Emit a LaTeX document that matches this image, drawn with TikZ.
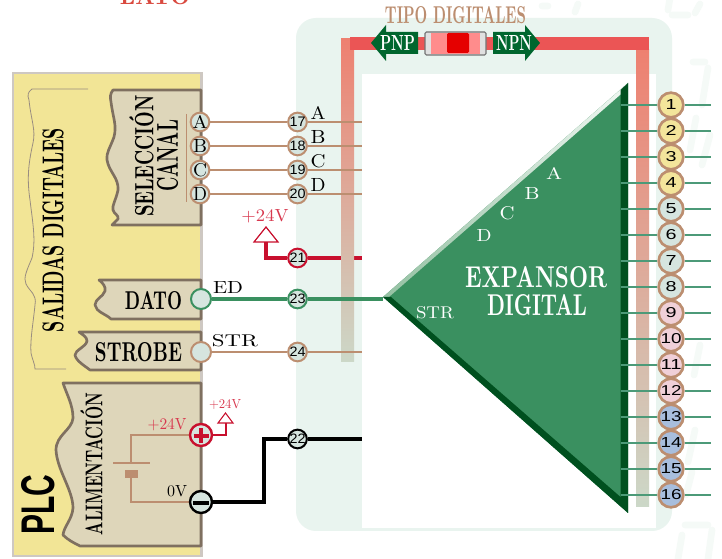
\documentclass[tikz,border=0pt]{standalone}
\usepackage{fontspec}
\usepackage{graphicx}
\setmainfont{Latin Modern Roman}
\newfontfamily\lsans{Liberation Sans}
\definecolor{panel}{HTML}{E9F4EF}
\definecolor{wmark}{HTML}{F5FAF7}
\definecolor{barred}{HTML}{EB5555}
\definecolor{bartop}{HTML}{EE8070}
\definecolor{barlow}{HTML}{CCD8C8}
\definecolor{plcy}{HTML}{F2E596}
\definecolor{plcb}{HTML}{CEC8C2}
\definecolor{tabf}{HTML}{DED6BA}
\definecolor{tabb}{HTML}{7F7060}
\definecolor{tan}{HTML}{BC8E70}
\definecolor{pale}{HTML}{D6E5DF}
\definecolor{pinl}{HTML}{4C9A78}
\definecolor{gr}{HTML}{3A9060}
\definecolor{dgr}{HTML}{00501F}
\definecolor{lgr}{HTML}{9CCBAB}
\definecolor{arrg}{HTML}{00662E}
\definecolor{redc}{HTML}{C8102E}
\definecolor{redt}{HTML}{D8384E}
\definecolor{ttl}{HTML}{D9493F}
\definecolor{pyel}{HTML}{F3E59B}
\definecolor{ppink}{HTML}{F0D0D8}
\definecolor{pblue}{HTML}{A8BEDD}
\newcommand{\fitt}[3]{\resizebox{\dimexpr#1pt*3/4\relax}{\dimexpr#2pt*3/4\relax}{#3}}
\newcommand{\numr}[1]{\ifnum#1>9 \fitt{21}{10}{\lsans #1}\else\fitt{11}{10}{\lsans #1}\fi}
\newcommand{\numm}[1]{\fitt{16}{9.5}{\lsans #1}}
\pgfdeclarelayer{base}
\pgfdeclarelayer{redw}
\pgfdeclarelayer{blocks}
\pgfdeclarelayer{wires}
\pgfsetlayers{base,redw,blocks,wires,main}
\tikzset{
  x=0.75pt,y=-0.75pt,
  tabshape/.style={fill=tabf,draw=tabb,line width=2pt,line join=round},
  wire/.style={draw=tan,line width=1.2pt},
  bigpin/.style={circle,draw=tan,line width=1.5pt,minimum size=14pt,inner sep=0pt,fill=pale},
  dotpin/.style={circle,line width=1.5pt,fill=pale,minimum size=15pt,inner sep=0pt},
  pwrpin/.style={circle,line width=1.8pt,fill=pale,minimum size=16.5pt,inner sep=0pt},
  midpin/.style={circle,draw=tan,line width=1.5pt,fill=pale,minimum size=14pt,inner sep=0pt},
  rpin/.style={circle,draw=tan,line width=2pt,minimum size=18.5pt,inner sep=0pt},
  lab/.style={inner sep=0pt,outer sep=0pt},
  seg/.style={wmark,line width=5pt,line cap=round},
}
\begin{document}
\begin{tikzpicture}
\useasboundingbox (0,0) rectangle (722,559);
\begin{pgfonlayer}{base}
\fill[white] (0,0) rectangle (722,559);
\begin{scope}
\clip (0,0) rectangle (722,559);
% faint digit segments
\draw[seg] (542,6) -- (548,6) (578,4) -- (575,12) (672,15) -- (688,15) (700,4) -- (695,13) (670,-2) -- (668,10);
\draw[seg] (693,62) -- (705,62) (708,68) -- (702,105) (696,118) -- (690,150) (710,135) -- (702,165);
\draw[seg] (700,345) -- (694,375) (695,430) -- (688,462) (692,472) -- (686,495);
\draw[seg] (685,525) -- (708,525) (682,535) -- (678,559) (712,530) -- (708,559);
\node[lab,text=ttl] (ttlbl) at (155,-3) {\fitt{70}{16}{\bfseries LATO}};
\end{scope}
\fill[panel,rounded corners=15pt] (296,18) rectangle (672,531);
\fill[white] (362,74) rectangle (656,528);
\end{pgfonlayer}
% nodes
\node[midpin] (p17) at (297.5,122) {\numm{17}};
\node[midpin] (p18) at (297.5,146) {\numm{18}};
\node[midpin] (p19) at (297.5,170) {\numm{19}};
\node[midpin] (p20) at (297.5,194) {\numm{20}};
\node[midpin,draw=redc] (p21) at (297.5,258) {\numm{21}};
\node[midpin,draw=black] (p22) at (297.5,439) {\numm{22}};
\node[midpin,draw=gr] (p23) at (297.5,299) {\numm{23}};
\node[midpin] (p24) at (297.5,352) {\numm{24}};
\node[bigpin] (A) at (200,122) {};
\node[bigpin] (B) at (200,146) {};
\node[bigpin] (C) at (200,170) {};
\node[bigpin] (D) at (200,194) {};
\node[lab] at (A) {\fitt{15}{13}{A}};
\node[lab] at (B) {\fitt{14}{13}{B}};
\node[lab] at (C) {\fitt{14}{13}{C}};
\node[lab] at (D) {\fitt{14}{13}{D}};
\node[dotpin,draw=gr] (ed) at (201,299) {};
\node[dotpin,draw=tan] (st) at (201,352) {};
\node[pwrpin,draw=redc] (plus) at (201,435) {};
\node[pwrpin,draw=black] (minus) at (201,502) {};
\draw[redc,line width=2.6pt] (193.5,436) -- (208.5,436) (201,428.5) -- (201,443.5);
\draw[black,line width=2.8pt] (193,503) -- (209,503);
\coordinate (Ae) at (362,122);
\coordinate (Be) at (362,146);
\coordinate (Ce) at (362,170);
\coordinate (De) at (362,194);
\coordinate (Ee) at (383,299);
\coordinate (Se) at (362,352);
\coordinate (Re) at (362,258);
\coordinate (Ke) at (362,439);
\coordinate (ra) at (266,242);
\coordinate (pa) at (226,423);
\coordinate (batt) at (131,463);
\coordinate (batb) at (131,478);
% red wire runs under the bar
\begin{pgfonlayer}{redw}
\draw[redc,line width=2.6pt] (p21) -- (Re);
\end{pgfonlayer}
\begin{pgfonlayer}{blocks}
\shade[bottom color=barlow,top color=bartop] (341,39) rectangle (354,362);
\shade[bottom color=barlow,top color=bartop] (636,50) rectangle (649,507);
\fill[barred] (350,37) rectangle (649,50);
% PLC block
\filldraw[fill=plcy,draw=plcb,line width=2pt] (13,73) rectangle (201.5,556);
\draw[draw=tabb!80,line width=.6pt] (88,89) -- (32,89) .. controls (28,92) and (27,95) .. (29,100)
 .. controls (31,120) and (36,130) .. (33,143) .. controls (28,165) and (27,180) .. (30,200)
 .. controls (33,225) and (36,240) .. (32,258) .. controls (27,270) and (23,278) .. (26,284)
 .. controls (30,292) and (37,294) .. (35,305) .. controls (33,325) and (30,340) .. (31,353)
 .. controls (33,362) and (35,364) .. (35,369) -- (66,369);
\path[tabshape] (201,90) -- (113,90) .. controls (110,94) and (110,97) .. (111,102) .. controls (113,118) and (117,125) .. (114,137)
 .. controls (110,148) and (106,153) .. (107,160) .. controls (109,172) and (119,178) .. (118,190)
 .. controls (116,200) and (112,205) .. (113,210) .. controls (114,214) and (119,215) .. (118,219) -- (112,225) -- (201,225) -- cycle;
\path[tabshape] (201,280) -- (99,280) .. controls (103,283) and (106,287) .. (105,291) .. controls (103,297) and (95,299) .. (95,305)
 .. controls (96,312) and (106,314) .. (111,319) -- (201,319) -- cycle;
\path[tabshape] (201,332) -- (79,332) .. controls (83,335) and (87,337) .. (87,341) .. controls (86,347) and (75,350) .. (75,355)
 .. controls (76,361) and (85,366) .. (90,370) -- (201,370) -- cycle;
\path[tabshape] (201,383) -- (63,383) .. controls (67,395) and (73,405) .. (73,418) .. controls (72,430) and (56,435) .. (56,450)
 .. controls (57,470) and (73,490) .. (73,508) .. controls (72,520) and (64,526) .. (63,535) .. controls (68,540) and (74,543) .. (80,546) -- (201,546) -- cycle;
% triangle
\fill[gr] (383,297) -- (628,83) -- (628,513) -- cycle;
\shade[left color=lgr!95!black,right color=lgr!15!white] (383,297) -- (628,83) -- (628,88) -- (389,297) -- cycle;
\fill[dgr] (383,297) -- (391,297) -- (620.5,497) -- (620.5,90) -- (628,83) -- (628,513) -- cycle;
% switch
\filldraw[fill=black!12,draw=black!55,line width=.8pt,rounded corners=1pt] (425,32) rectangle (486,55);
\fill[red!45!white] (431,33) rectangle (480,54);
\fill[red!90!black,rounded corners=1pt] (447,33) rectangle (469,53);
\fill[arrg] (418,32) -- (386,32) -- (386,25) -- (371,43) -- (386,61) -- (386,54) -- (418,54) -- cycle;
\fill[arrg] (493,32) -- (525,32) -- (525,25) -- (540,43) -- (525,61) -- (525,54) -- (493,54) -- cycle;
\end{pgfonlayer}
\begin{pgfonlayer}{wires}
\draw[wire] (A) -- (p17) -- (Ae);
\draw[wire] (B) -- (p18) -- (Be);
\draw[wire] (C) -- (p19) -- (Ce);
\draw[wire] (D) -- (p20) -- (De);
\draw[redc,line width=2.6pt] (ra) -- (266,258) -- (p21);
\draw[gr,line width=3pt] (ed) -- (p23) -- (Ee);
\draw[wire] (st) -- (p24) -- (Se);
\draw[redc,line width=1.8pt] (plus) -- (226,435) -- (pa);
\draw[black,line width=2.6pt] (minus) -- (264,502) -- (264,439) -- (p22) -- (Ke);
\draw[tan,line width=.7pt] (186,114) -- (186,202);
\draw[tan,line width=1pt] (plus) -- (131,435) -- (batt);
\draw[tan,line width=2.2pt] (113,463) -- (150,463);
\fill[tan] (125,470) rectangle (138,478);
\draw[tan,line width=1pt] (batb) -- (131,502) -- (minus);
\end{pgfonlayer}
% labels
\node[lab,rotate=90] (sd) at (53,230) {\fitt{204}{21}{\bfseries SALIDAS DIGITALES}};
\node[lab,rotate=90] (sel) at (141.5,156) {\fitt{122}{24}{\bfseries SELECCIÓN}};
\node[lab,rotate=90] (can) at (167.5,156) {\fitt{72}{21}{\bfseries CANAL}};
\node[lab] (dato) at (153.5,301) {\fitt{57}{18}{\bfseries DATO}};
\node[lab] (strb) at (138.5,352.5) {\fitt{87}{19}{\bfseries STROBE}};
\node[lab,rotate=90] (ali) at (91.5,464) {\fitt{142}{22}{\bfseries ALIMENTACIÓN}};
\node[lab,rotate=90] (plc) at (38.5,505) {\fitt{60}{33}{\lsans\bfseries PLC}};
\node[lab,text=redt] (v24a) at (167,425) {\fitt{39}{11}{+24V}};
\node[lab] (v0) at (177,491) {\fitt{20}{11}{0V}};
\node[lab,text=white] at (554,174) {\fitt{16}{12}{A}};
\node[lab,text=white] at (532,194) {\fitt{15}{12}{B}};
\node[lab,text=white] at (507,213) {\fitt{15}{13}{C}};
\node[lab,text=white] at (484,236) {\fitt{15}{12}{D}};
\node[lab,text=white] at (435,313) {\fitt{38}{12}{STR}};
\node[lab,text=white] (exp) at (536,277) {\fitt{142}{21}{\bfseries EXPANSOR}};
\node[lab,text=white] (dig) at (537,305.5) {\fitt{100}{21}{\bfseries DIGITAL}};
\node[lab,text=redt] (v24b) at (265,216) {\fitt{47}{12}{+24V}};
\filldraw[fill=white,draw=redc,line width=.9pt] (266,227) -- (278,242) -- (254,242) -- cycle;
\node[lab] at (228,288) {\fitt{30}{12}{ED}};
\node[lab] at (235,341) {\fitt{46}{12}{STR}};
\node[lab] at (318,113) {\fitt{15}{13}{A}};
\node[lab] at (318,137) {\fitt{15}{13}{B}};
\node[lab] at (318,161) {\fitt{15}{13}{C}};
\node[lab] at (318,185) {\fitt{15}{13}{D}};
\filldraw[fill=white,draw=redc,line width=.8pt] (225.5,413) -- (233,423) -- (218,423) -- cycle;
\node[lab,text=redt] (v24c) at (225,405) {\fitt{32}{9}{+24V}};
\node[lab,text=tan] (tipo) at (455.5,15.5) {\fitt{141}{17}{\bfseries TIPO DIGITALES}};
\node[lab,text=white] at (397.5,43) {\fitt{35}{15}{\bfseries PNP}};
\node[lab,text=white] at (514,43) {\fitt{36}{15}{\bfseries NPN}};
% right pins
\foreach \n/\yy/\c in {1/105/pyel,2/131/pyel,3/157/pyel,4/183/pyel,5/209/pale,6/235/pale,7/261/pale,8/287/pale,9/313/ppink,10/339/ppink,11/365/ppink,12/391/ppink,13/417/pblue,14/443/pblue,15/469/pblue,16/495/pblue}{
  \coordinate (L\n) at (620.5,\yy);
  \coordinate (E\n) at (711,\yy);
  \node[rpin,fill=\c] (R\n) at (671,\yy) {\numr{\n}};
  \begin{pgfonlayer}{wires}
  \draw[pinl,line width=1.1pt] (L\n) -- (R\n);
  \draw[pinl,line width=1.1pt] (R\n) -- (E\n);
  \end{pgfonlayer}
}
\end{tikzpicture}
\end{document}
